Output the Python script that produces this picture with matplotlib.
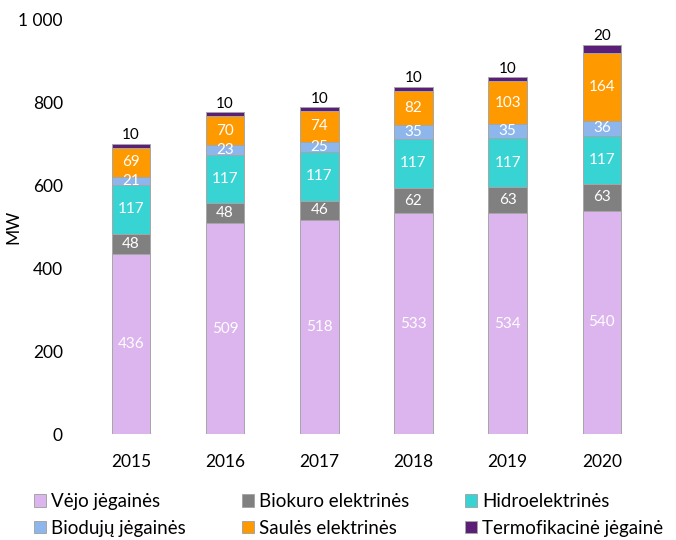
import matplotlib
matplotlib.use("Agg")
import matplotlib.pyplot as plt
import numpy as np

plt.rcParams['font.family'] = ['Lato', 'DejaVu Sans']

# data
years = ["2015", "2016", "2017", "2018", "2019", "2020"]
vejo = [436, 509, 518, 533, 534, 540]
biokuro = [48, 48, 46, 62, 63, 63]
hidro = [117, 117, 117, 117, 117, 117]
biodujos = [21, 23, 25, 35, 35, 36]
saules = [69, 70, 74, 82, 103, 164]
termo = [10, 10, 10, 10, 10, 20]

series = [
    ("Vėjo jėgainės", vejo, "#dcb4ee"),
    ("Biokuro elektrinės", biokuro, "#808080"),
    ("Hidroelektrinės", hidro, "#38d4d4"),
    ("Biodujų jėgainės", biodujos, "#8db6ec"),
    ("Saulės elektrinės", saules, "#ff9900"),
    ("Termofikacinė jėgainė", termo, "#5c1f78"),
]

fig = plt.figure(figsize=(6.76, 5.4), dpi=100)
ax = fig.add_axes([0.124, 0.196, 0.836, 0.767])

x = np.arange(len(years))
bottom = np.zeros(len(years))
handles = []
for i, (name, vals, col) in enumerate(series):
    bars = ax.bar(x, vals, 0.41, bottom=bottom, color=col, label=name,
                  edgecolor="#a6a6a6", linewidth=0.7)
    handles.append(bars)
    if i < len(series) - 1:
        ax.bar_label(bars, labels=[str(v) for v in vals], label_type="center",
                     color="white", fontsize=11)
    else:
        ax.bar_label(bars, labels=[str(v) for v in vals], label_type="edge",
                     color="black", fontsize=11, padding=1)
    bottom = bottom + np.array(vals)

ax.set_xlim(-0.5, 5.5)
ax.set_ylim(0, 1000)
ax.set_xticks(x)
ax.set_xticklabels(years, fontsize=12.5)
ax.set_yticks([0, 200, 400, 600, 800, 1000])
ax.set_yticklabels(["0", "200", "400", "600", "800", "1 000"], fontsize=12.5)
ax.tick_params(length=0, pad=15, axis="y")
ax.tick_params(length=0, pad=14, axis="x")
for s in ax.spines.values():
    s.set_visible(False)
ax.set_ylabel("MW", fontsize=12.5)
ax.yaxis.set_label_coords(-0.11, 0.5)

# legend is filled column-wise, so reorder to match row layout
order = [0, 3, 1, 4, 2, 5]
leg = fig.legend([handles[i] for i in order], [series[i][0] for i in order],
                 loc="lower left", bbox_to_anchor=(0.025, -0.025), ncol=3,
                 frameon=False, fontsize=13.5, handlelength=0.65, handleheight=0.65,
                 handletextpad=0.25, columnspacing=3.0, labelspacing=0.52)

fig.savefig("out.png", dpi=100)
